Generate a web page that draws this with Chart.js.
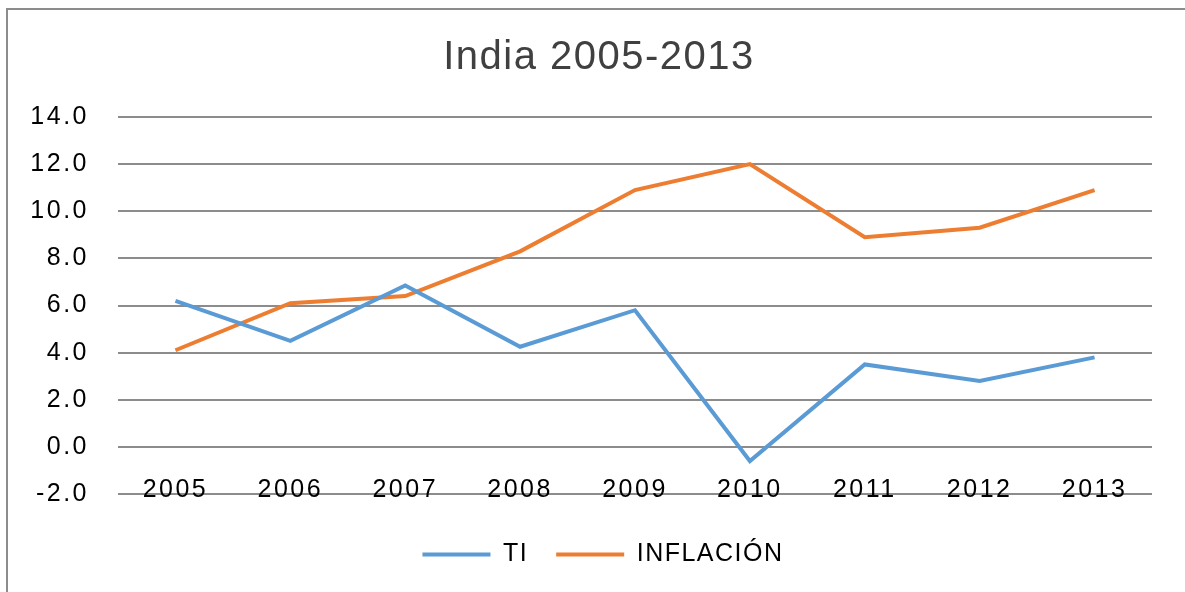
<!DOCTYPE html>
<html>
<head>
<meta charset="utf-8">
<script src="https://cdn.jsdelivr.net/npm/chart.js@4"></script>
<style>
  html, body { margin: 0; padding: 0; background: #fff; overflow: hidden; }
  #frame { position: absolute; left: 6px; top: 8px; width: 1200px; height: 600px; border: 2px solid #8c8c8c; box-sizing: border-box; }
  #wrap { position: absolute; left: 0; top: 0; width: 1185px; height: 592px; }
</style>
</head>
<body>
<div id="frame"></div>
<div id="wrap"><canvas id="indiaChart"></canvas></div>
<script>
// Data
const years = ['2005', '2006', '2007', '2008', '2009', '2010', '2011', '2012', '2013'];
const tiValues = [6.2, 4.5, 6.85, 4.25, 5.8, -0.6, 3.5, 2.8, 3.8];
const inflacionValues = [4.1, 6.1, 6.4, 8.3, 10.9, 12.0, 8.9, 9.3, 10.9];
const yTicks = [-2, 0, 2, 4, 6, 8, 10, 12, 14];

const FONT = "'Liberation Sans', Arial, sans-serif";

// The original text is drawn a bit spaced out; title/legend get less than the axes
const spacingPlugin = {
    id: 'spacing',
    beforeUpdate(chart) { chart.ctx.letterSpacing = '1.5px'; },
    beforeDraw(chart) { chart.ctx.letterSpacing = '1.5px'; },
    afterDatasetsDraw(chart) { chart.ctx.letterSpacing = '2.5px'; },
    // title and legend are centred on the frame, not on the canvas
    afterLayout(chart) {
        const shift = 23;
        [chart.titleBlock, chart.legend].forEach(function(box) {
            if (!box) return;
            box.left += shift;
            box.right += shift;
        });
        if (chart.legend) {
            chart.legend.left += 4;
            chart.legend.right += 4;
            chart.legend.top += 20;
            chart.legend.bottom += 20;
        }
    }
};

document.addEventListener('DOMContentLoaded', function() {
    const ctx = document.getElementById('indiaChart').getContext('2d');
    new Chart(ctx, {
        type: 'line',
        data: {
            labels: years,
            datasets: [{
                label: 'TI',
                data: tiValues,
                borderColor: '#5b9bd5',
                backgroundColor: '#5b9bd5',
                borderWidth: 4,
                pointRadius: 0,
                tension: 0
            }, {
                label: 'INFLACIÓN',
                data: inflacionValues,
                borderColor: '#ed7d31',
                backgroundColor: '#ed7d31',
                borderWidth: 4,
                pointRadius: 0,
                tension: 0
            }]
        },
        plugins: [spacingPlugin],
        options: {
            responsive: true,
            maintainAspectRatio: false,
            animation: false,
            layout: {
                padding: { left: 0, right: 33, top: 0, bottom: 35 }
            },
            plugins: {
                title: {
                    display: true,
                    text: 'India 2005-2013',
                    color: '#404040',
                    font: { family: FONT, size: 40, weight: 'normal' },
                    padding: { top: 34, bottom: 35 }
                },
                legend: {
                    position: 'bottom',
                    labels: {
                        color: '#000',
                        font: { family: FONT, size: 25 },
                        boxWidth: 68,
                        boxHeight: 4,
                        padding: 28,
                        generateLabels: function(chart) {
                            return Chart.defaults.plugins.legend.labels.generateLabels(chart).map(function(item) {
                                item.lineWidth = 0;
                                return item;
                            });
                        }
                    }
                },
                tooltip: { enabled: false }
            },
            scales: {
                x: {
                    position: { y: 0 },
                    offset: true,
                    grid: { display: false, drawTicks: false },
                    border: { display: false },
                    ticks: {
                        z: 1,
                        color: '#000',
                        font: { family: FONT, size: 25 },
                        padding: 28,
                        maxRotation: 0,
                        autoSkip: false
                    }
                },
                y: {
                    min: -2,
                    max: 14,
                    afterBuildTicks: function(scale) {
                        scale.ticks = yTicks.map(v => ({ value: v }));
                    },
                    afterFit: function(scale) {
                        scale.width = 118;
                    },
                    grid: { color: '#8c8c8c', lineWidth: 2, drawTicks: false },
                    border: { display: false },
                    ticks: {
                        z: 1,
                        color: '#000',
                        font: { family: FONT, size: 25 },
                        padding: 29,
                        callback: function(value) {
                            return value.toFixed(1);
                        }
                    }
                }
            }
        }
    });
});
</script>
</body>
</html>
